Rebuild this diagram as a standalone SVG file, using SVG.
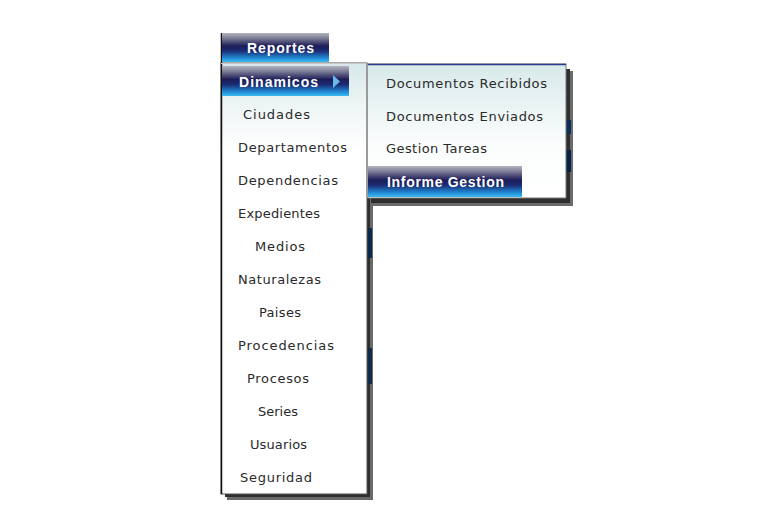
<svg xmlns="http://www.w3.org/2000/svg" width="773" height="508" viewBox="0 0 773 508">
<defs>
<linearGradient id="hdr" x1="0" y1="0" x2="0" y2="1">
<stop offset="0" stop-color="#b4b4c0"/>
<stop offset="0.18" stop-color="#7c7c96"/>
<stop offset="0.45" stop-color="#1c1c58"/>
<stop offset="0.62" stop-color="#1c2c74"/>
<stop offset="0.85" stop-color="#1f86d2"/>
<stop offset="1" stop-color="#3cbdf2"/>
</linearGradient>
<linearGradient id="panelBg" gradientUnits="userSpaceOnUse" x1="0" y1="63" x2="0" y2="150">
<stop offset="0" stop-color="#d8e8ea"/>
<stop offset="0.5" stop-color="#eef5f5"/>
<stop offset="1" stop-color="#ffffff"/>
</linearGradient>
<linearGradient id="subBg" gradientUnits="userSpaceOnUse" x1="0" y1="64" x2="0" y2="198">
<stop offset="0" stop-color="#d8e9ea"/>
<stop offset="0.6" stop-color="#fbfdfd"/>
<stop offset="1" stop-color="#ffffff"/>
</linearGradient>
<style>
.item{font-family:"DejaVu Sans","Liberation Sans",sans-serif;font-size:13px;fill:#2a2a2a;}
.head{font-family:"Liberation Sans",Arial,sans-serif;font-size:14px;font-weight:bold;fill:#ffffff;}
.shadowA{fill:#6a6a6a;}
.shadowB{fill:#2e2e2e;}
</style>
</defs>
<rect width="773" height="508" fill="#ffffff"/>

<g id="main-menu">
<rect class="shadowA" x="227" y="69" width="146" height="431"/>
<rect class="shadowB" x="225" y="67" width="145" height="430"/>
<rect x="368" y="228" width="4" height="30" fill="#0c2a4c"/>
<rect x="368" y="348" width="4" height="36" fill="#102a48"/>
<rect x="221" y="63" width="146" height="431" fill="url(#panelBg)" stroke="#555" stroke-width="1"/>
<line x1="221.5" y1="33" x2="221.5" y2="494" stroke="#111" stroke-width="1.5"/>
<line x1="221" y1="63.5" x2="367" y2="63.5" stroke="#c8c8c8" stroke-width="1"/>
</g>

<g id="reportes">
<rect x="222" y="33" width="107" height="29" fill="url(#hdr)"/>
<text class="head" x="247" y="53" textLength="67" lengthAdjust="spacing">Reportes</text>
</g>

<g id="dinamicos">
<rect x="222" y="66" width="127" height="30" fill="url(#hdr)"/>
<text class="head" x="239" y="87" textLength="79" lengthAdjust="spacing">Dinamicos</text>
<polygon points="333,75 340,81.5 333,88" fill="#6ab8ea"/>
</g>

<g id="ciudades"><text class="item" x="243" y="119" textLength="67" lengthAdjust="spacing">Ciudades</text></g>
<g id="departamentos"><text class="item" x="238" y="152" textLength="109" lengthAdjust="spacing">Departamentos</text></g>
<g id="dependencias"><text class="item" x="238" y="185" textLength="100" lengthAdjust="spacing">Dependencias</text></g>
<g id="expedientes"><text class="item" x="238" y="218" textLength="82" lengthAdjust="spacing">Expedientes</text></g>
<g id="medios"><text class="item" x="255" y="251" textLength="50" lengthAdjust="spacing">Medios</text></g>
<g id="naturalezas"><text class="item" x="238" y="284" textLength="83" lengthAdjust="spacing">Naturalezas</text></g>
<g id="paises"><text class="item" x="259" y="317" textLength="42" lengthAdjust="spacing">Paises</text></g>
<g id="procedencias"><text class="item" x="238" y="350" textLength="96" lengthAdjust="spacing">Procedencias</text></g>
<g id="procesos"><text class="item" x="247" y="383" textLength="62" lengthAdjust="spacing">Procesos</text></g>
<g id="series"><text class="item" x="258" y="416" textLength="40" lengthAdjust="spacing">Series</text></g>
<g id="usuarios"><text class="item" x="250" y="449" textLength="57" lengthAdjust="spacing">Usuarios</text></g>
<g id="seguridad"><text class="item" x="240" y="482" textLength="72" lengthAdjust="spacing">Seguridad</text></g>

<g id="submenu">
<rect class="shadowA" x="373" y="71" width="200" height="135"/>
<rect class="shadowB" x="371" y="69" width="199" height="134"/>
<rect x="566" y="120" width="5" height="14" fill="#0d2f55"/>
<rect x="566" y="150" width="5" height="22" fill="#0b2446"/>
<rect x="367" y="64" width="199" height="134" fill="url(#subBg)" stroke="#777" stroke-width="1"/>
<line x1="367" y1="64.5" x2="566" y2="64.5" stroke="#2a3c8c" stroke-width="1.5"/>
<line x1="367" y1="64" x2="367" y2="198" stroke="#9a9a9a" stroke-width="2"/>
</g>

<g id="documentos-recibidos"><text class="item" x="386" y="88" textLength="161" lengthAdjust="spacing">Documentos Recibidos</text></g>
<g id="documentos-enviados"><text class="item" x="386" y="121" textLength="157" lengthAdjust="spacing">Documentos Enviados</text></g>
<g id="gestion-tareas"><text class="item" x="386" y="153" textLength="101" lengthAdjust="spacing">Gestion Tareas</text></g>
<g id="informe-gestion">
<rect x="368" y="166" width="154" height="31" fill="url(#hdr)"/>
<text class="head" x="387" y="187" textLength="117" lengthAdjust="spacing">Informe Gestion</text>
</g>

<g id="connectors"/>
</svg>
